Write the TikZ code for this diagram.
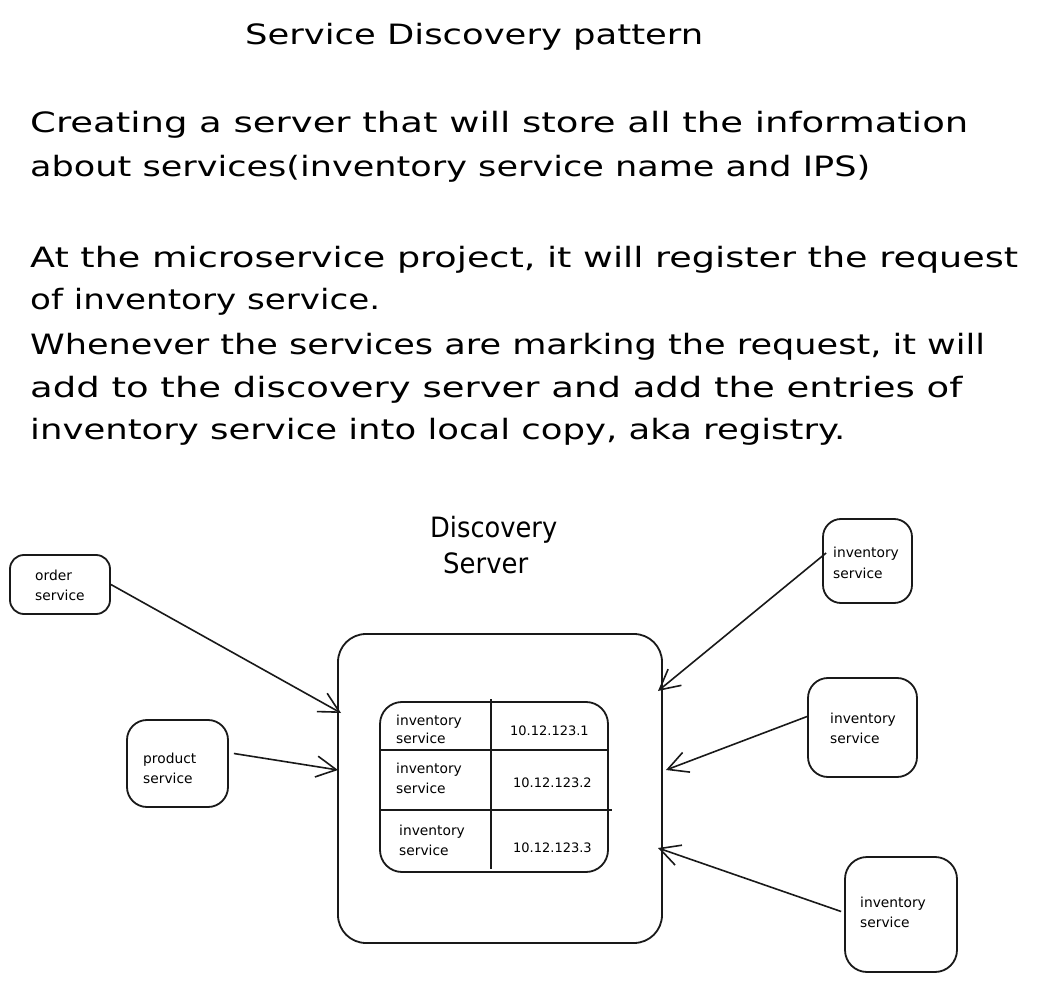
\documentclass[tikz,border=0pt]{standalone}
\usepackage{fontspec}
\setmainfont{DejaVu Sans}
\usetikzlibrary{arrows.meta,calc}
\newcommand{\fitw}[2]{\resizebox{#1}{\height}{#2}}
\tikzset{
  ink/.style={draw=black!90, line width=1.8pt},
  sbox/.style={ink, rounded corners=#1, inner sep=0pt},
  sbox/.default=18pt,
  bigtext/.style={anchor=base west, inner sep=0pt, font=\fontsize{28}{32}\selectfont},
  smalltext/.style={anchor=base west, inner sep=0pt, font=\fontsize{13.8}{16}\selectfont},
  iptext/.style={anchor=base west, inner sep=0pt, font=\fontsize{13}{16}\selectfont},
  arr/.style={ink, line width=1.6pt, -{Straight Barb[length=20pt,width=21pt,line width=1.6pt]}},
}
\begin{document}
\begin{tikzpicture}[x=1pt,y=-1pt]
\useasboundingbox (0,0) rectangle (1045,981);
\fill[white] (0,0) rectangle (1045,981);

% ---- header text ----
\node[bigtext] (title) at (245,45) {\fitw{458pt}{Service Discovery pattern}};
\node[bigtext] (l1) at (30,133) {\fitw{938pt}{Creating a server that will store all the information}};
\node[bigtext] (l2) at (30,177) {\fitw{840pt}{about services(inventory service name and IPS)}};
\node[bigtext] (l3) at (30,268) {\fitw{988pt}{At the microservice project, it will register the request}};
\node[bigtext] (l4) at (30,310) {\fitw{350pt}{of inventory service.}};
\node[bigtext] (l5) at (30,355) {\fitw{955pt}{Whenever the services are marking the request, it will}};
\node[bigtext] (l6) at (30,398) {\fitw{932pt}{add to the discovery server and add the entries of}};
\node[bigtext] (l7) at (30,440) {\fitw{815pt}{inventory service into local copy, aka registry.}};

% ---- discovery server label ----
\node[bigtext] (ds1) at (430,538) {\fitw{127pt}{Discovery}};
\node[bigtext] (ds2) at (443,573) {\fitw{85pt}{Server}};

% ---- boxes ----
\node[sbox=14pt, minimum width=100pt, minimum height=59pt] (order) at (60,584.5) {};
\node[sbox=20pt, minimum width=101pt, minimum height=87pt] (product) at (177.5,763.5) {};
\node[sbox=28pt, minimum width=324pt, minimum height=309pt] (server) at (500,788.5) {};
\node[sbox=22pt, minimum width=228pt, minimum height=170pt] (table) at (494,787) {};
\node[sbox=18pt, minimum width=89pt, minimum height=84pt] (inv1) at (867.5,561) {};
\node[sbox=20pt, minimum width=109pt, minimum height=99pt] (inv2) at (862.5,727.5) {};
\node[sbox=22pt, minimum width=112pt, minimum height=115pt] (inv3) at (901,914.5) {};

% ---- box texts ----
\node[smalltext] (ot1) at (35,580) {order};
\node[smalltext] (ot2) at (35,600) {service};
\node[smalltext] (pt1) at (143,763) {product};
\node[smalltext] (pt2) at (143,783) {service};
\node[smalltext] (it1a) at (833,558) {inventory};
\node[smalltext] (it1b) at (833,578) {service};
\node[smalltext] (it2a) at (830,723) {inventory};
\node[smalltext] (it2b) at (830,743) {service};
\node[smalltext] (it3a) at (860,907) {inventory};
\node[smalltext] (it3b) at (860,927) {service};

% ---- table grid ----
\coordinate (r1l) at (380,750); \coordinate (r1r) at (608,750);
\coordinate (r2l) at (380,810); \coordinate (r2r) at (612,810);
\coordinate (ct) at (491,699); \coordinate (cb) at (491,869);
\draw[ink] (r1l) -- (r1r);
\draw[ink] (r2l) -- (r2r);
\draw[ink] (ct) -- (cb);

% ---- table texts ----
\node[smalltext] (t1a) at (396,725) {inventory};
\node[smalltext] (t1b) at (396,743) {service};
\node[smalltext] (t2a) at (396,773) {inventory};
\node[smalltext] (t2b) at (396,793) {service};
\node[smalltext] (t3a) at (399,835) {inventory};
\node[smalltext] (t3b) at (399,855) {service};
\node[iptext] (ip1) at (510,735) {10.12.123.1};
\node[iptext] (ip2) at (513,787) {10.12.123.2};
\node[iptext] (ip3) at (513,852) {10.12.123.3};

% ---- arrows ----
\coordinate (e1) at (341,713);
\coordinate (e2) at (338,770);
\coordinate (e3) at (658,691);
\coordinate (e4) at (666,770);
\coordinate (e5) at (658,848);
\draw[arr] (order.east) -- (e1);
\draw[arr] ($(product.east)+(5,-10)$) -- (e2);
\draw[arr] ($(inv1.west)+(4,-8)$) -- (e3);
\draw[arr] ($(inv2.west)+(0,-11)$) -- (e4);
\draw[arr] ($(inv3.west)+(-3,-3)$) -- (e5);
\end{tikzpicture}
\end{document}
